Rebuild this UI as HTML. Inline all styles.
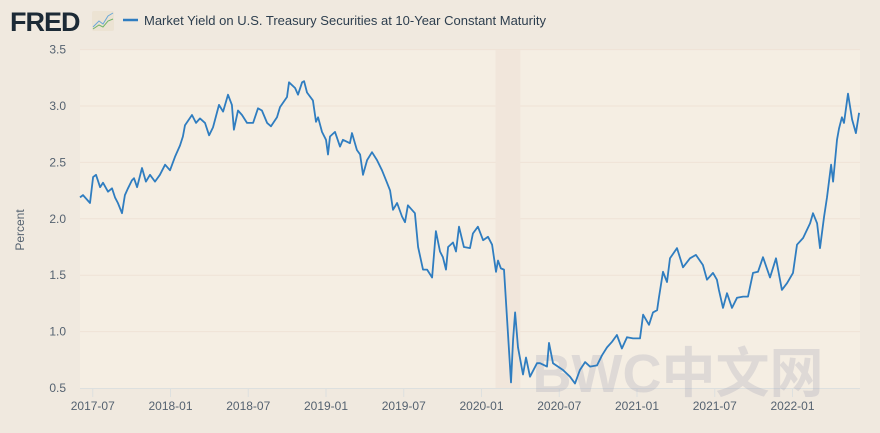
<!DOCTYPE html>
<html><head><meta charset="utf-8"><style>
body{margin:0;background:#f0e9df;font-family:"Liberation Sans","Noto Sans CJK SC",sans-serif;}
#wrap{position:relative;width:880px;height:433px;overflow:hidden;background:#f0e9df}
svg{position:absolute;left:0;top:0}
</style></head><body>
<div id="wrap">
<svg id="chart" width="880" height="433">
<text x="10" y="31" font-size="27" font-weight="bold" fill="#1c2a36" font-family="Liberation Sans, sans-serif" letter-spacing="-1">FRED</text>
<g><rect x="92" y="11" width="22" height="20" fill="#ece3d3" rx="2"/><polyline points="93,27 99,21 103,24 108,16 113,13" fill="none" stroke="#6aa8d8" stroke-width="1"/><polyline points="93,29 99,25 103,27 108,21 113,19" fill="none" stroke="#72b56a" stroke-width="1"/></g>
<line x1="123" y1="20" x2="138" y2="20" stroke="#2f7dc0" stroke-width="2.5"/>
<text x="144" y="25" font-size="13" fill="#2d3e4e">Market Yield on U.S. Treasury Securities at 10-Year Constant Maturity</text>
<rect x="80" y="50" width="780" height="338" fill="#f5eee3"/>
<g id="grid"></g><g id="rec"></g><g id="axes"></g>
<text x="678" y="392" font-size="54" font-weight="bold" fill="rgba(170,170,185,0.3)" text-anchor="middle">BWC中文网</text>
<path id="line" fill="none" stroke="#2f7dc0" stroke-width="1.8" stroke-linejoin="round"/>
<text transform="translate(24,230) rotate(-90)" font-size="12" fill="#556270" text-anchor="middle">Percent</text>
</svg></div>
<script>
const yTicks=[0.5,1.0,1.5,2.0,2.5,3.0,3.5];
const xTickLabels=["2017-07","2018-01","2018-07","2019-01","2019-07","2020-01","2020-07","2021-01","2021-07","2022-01"];
const xTickYears=[2017.5,2018,2018.5,2019,2019.5,2020,2020.5,2021,2021.5,2022];
const recession=[2020.09,2020.25];
const years=[2017.418,2017.437,2017.482,2017.502,2017.521,2017.547,2017.566,2017.598,2017.624,2017.643,2017.662,2017.688,2017.707,2017.727,2017.752,2017.765,2017.785,2017.817,2017.842,2017.868,2017.900,2017.932,2017.965,2017.997,2018.029,2018.061,2018.080,2018.093,2018.138,2018.164,2018.190,2018.222,2018.248,2018.273,2018.312,2018.338,2018.370,2018.395,2018.408,2018.434,2018.460,2018.492,2018.531,2018.563,2018.588,2018.621,2018.646,2018.685,2018.704,2018.749,2018.762,2018.801,2018.820,2018.846,2018.859,2018.878,2018.916,2018.936,2018.949,2018.974,2019.000,2019.013,2019.026,2019.058,2019.090,2019.109,2019.154,2019.167,2019.199,2019.219,2019.238,2019.264,2019.296,2019.328,2019.360,2019.392,2019.412,2019.431,2019.457,2019.489,2019.508,2019.527,2019.572,2019.592,2019.624,2019.650,2019.682,2019.707,2019.733,2019.752,2019.772,2019.785,2019.817,2019.836,2019.855,2019.887,2019.926,2019.945,2019.977,2020.010,2020.042,2020.068,2020.093,2020.106,2020.125,2020.145,2020.164,2020.190,2020.203,2020.216,2020.235,2020.267,2020.286,2020.312,2020.357,2020.376,2020.421,2020.434,2020.460,2020.524,2020.569,2020.601,2020.633,2020.666,2020.698,2020.743,2020.775,2020.807,2020.839,2020.871,2020.903,2020.936,2020.974,2021.019,2021.039,2021.077,2021.103,2021.129,2021.141,2021.167,2021.193,2021.212,2021.257,2021.296,2021.341,2021.379,2021.424,2021.450,2021.489,2021.514,2021.527,2021.553,2021.579,2021.611,2021.643,2021.682,2021.714,2021.746,2021.778,2021.810,2021.855,2021.894,2021.932,2021.965,2022.003,2022.029,2022.068,2022.113,2022.132,2022.158,2022.177,2022.203,2022.222,2022.248,2022.261,2022.286,2022.299,2022.318,2022.331,2022.357,2022.383,2022.408,2022.428];
const yields=[2.19,2.21,2.14,2.37,2.39,2.28,2.32,2.24,2.27,2.19,2.14,2.05,2.21,2.27,2.34,2.36,2.28,2.45,2.33,2.39,2.33,2.39,2.48,2.43,2.55,2.65,2.73,2.83,2.92,2.85,2.89,2.85,2.74,2.81,3.01,2.95,3.10,3.01,2.79,2.96,2.92,2.85,2.85,2.98,2.96,2.85,2.82,2.90,2.99,3.08,3.21,3.16,3.10,3.21,3.22,3.12,3.05,2.86,2.90,2.77,2.70,2.57,2.73,2.77,2.64,2.70,2.67,2.76,2.61,2.57,2.39,2.52,2.59,2.52,2.43,2.32,2.25,2.08,2.14,2.02,1.97,2.12,2.05,1.75,1.55,1.55,1.48,1.89,1.71,1.66,1.55,1.75,1.79,1.71,1.93,1.75,1.74,1.87,1.93,1.81,1.84,1.77,1.53,1.63,1.56,1.55,1.12,0.55,0.93,1.17,0.86,0.62,0.77,0.60,0.72,0.72,0.69,0.90,0.72,0.66,0.60,0.54,0.66,0.73,0.69,0.70,0.79,0.86,0.91,0.97,0.85,0.95,0.94,0.94,1.15,1.06,1.17,1.19,1.30,1.53,1.44,1.65,1.74,1.57,1.65,1.68,1.59,1.46,1.52,1.46,1.37,1.21,1.34,1.21,1.30,1.31,1.31,1.52,1.53,1.66,1.48,1.65,1.37,1.43,1.52,1.77,1.83,1.96,2.05,1.96,1.74,2.02,2.19,2.48,2.33,2.70,2.80,2.90,2.85,3.11,2.88,2.76,2.94];
const X=t=>170.5+(t-2018)*155.5;
const Y=v=>388-(v-0.5)*112.8;
const ns='http://www.w3.org/2000/svg';
function mk(tag,attrs,parent){const e=document.createElementNS(ns,tag);for(const k in attrs)e.setAttribute(k,attrs[k]);parent.appendChild(e);return e;}
const grid=document.getElementById('grid'),axes=document.getElementById('axes'),rec=document.getElementById('rec');
const r=mk('rect',{x:X(recession[0]),y:50,width:X(recession[1])-X(recession[0]),height:338,fill:'#f1e6db'},rec);


yTicks.forEach(v=>{
  if(v>0.5){const l=mk('line',{x1:80,x2:860,y1:Y(v),y2:Y(v),stroke:'#efe2d6','stroke-width':1},grid);
  
  }
  const t=mk('text',{x:66,y:Y(v)+4,'font-size':12,fill:'#556270','text-anchor':'end'},axes);
  t.textContent=v.toFixed(1);
  
  
});
const ax=mk('line',{x1:80,x2:860,y1:388.5,y2:388.5,stroke:'#dde0df','stroke-width':1},axes);


xTickYears.forEach((t,i)=>{
  const l=mk('line',{x1:X(t),x2:X(t),y1:389,y2:397,stroke:'#dde0df'},axes);
  
  
  const tx=mk('text',{x:X(t),y:410,'font-size':12,fill:'#556270','text-anchor':'middle'},axes);
  tx.textContent=xTickLabels[i];
  
  
});
document.getElementById('line').setAttribute('d',years.map((t,i)=>(i?'L':'M')+X(t).toFixed(1)+','+Y(yields[i]).toFixed(1)).join(''));
</script>
</body></html>
